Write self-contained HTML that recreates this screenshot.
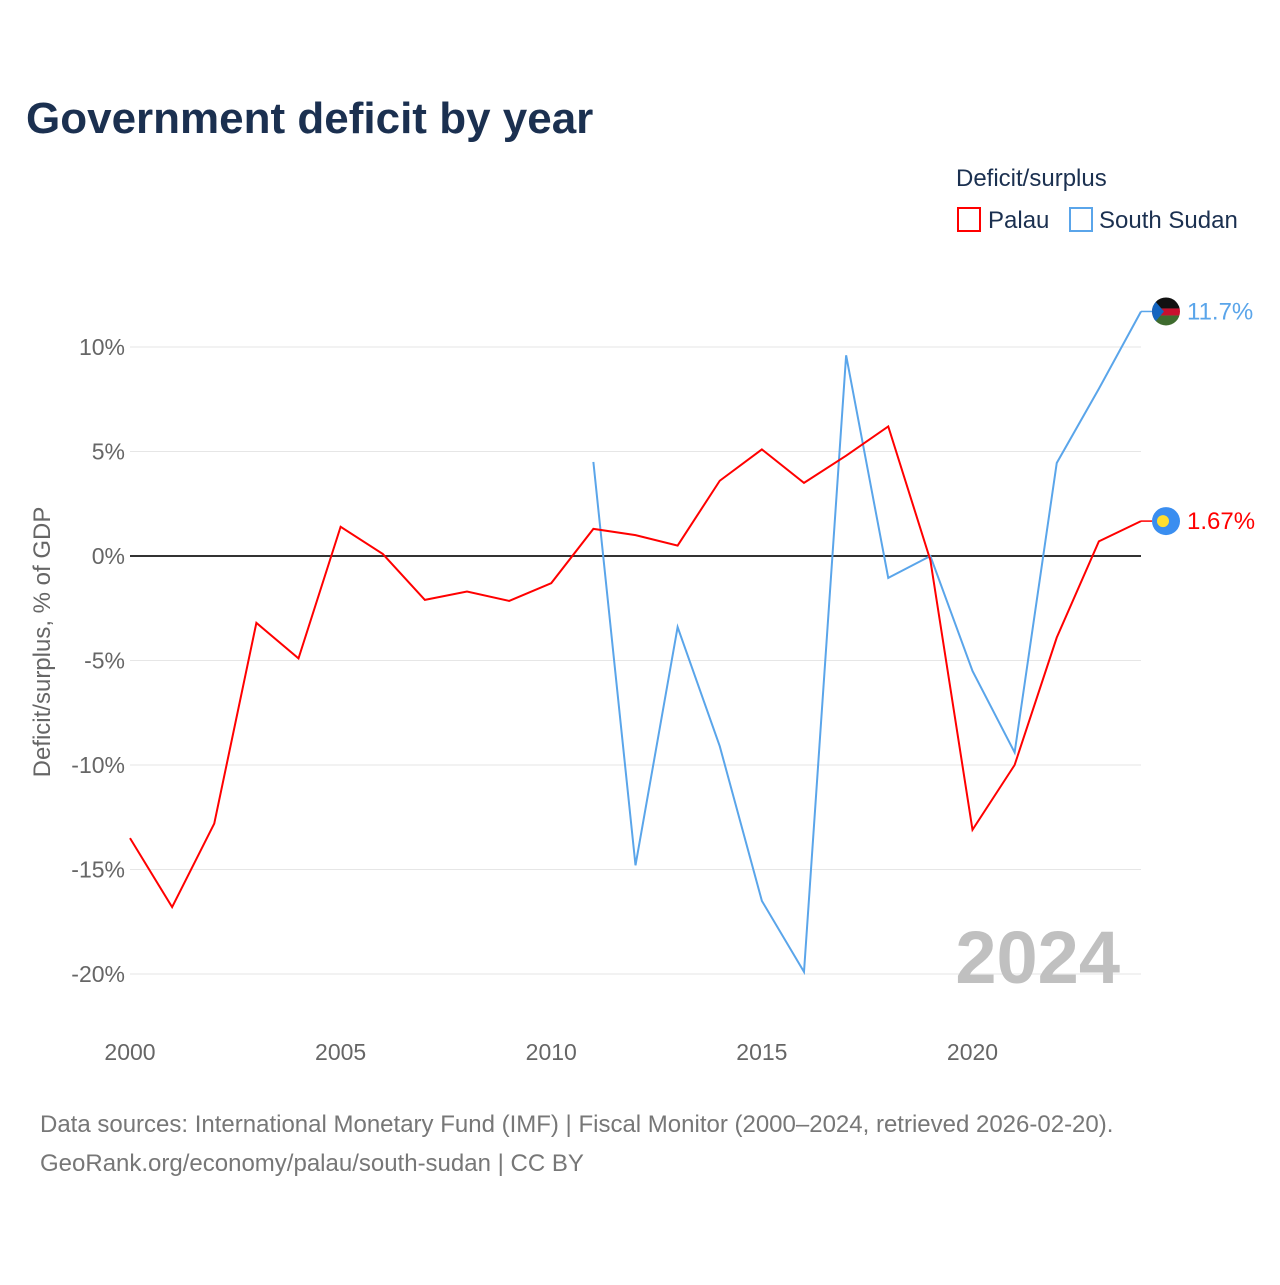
<!DOCTYPE html>
<html><head><meta charset="utf-8"><style>
body{margin:0;background:#fff;font-family:"Liberation Sans",sans-serif;}
svg text{font-family:"Liberation Sans",sans-serif;}
</style></head><body>
<svg width="1280" height="1280" viewBox="0 0 1280 1280" xmlns="http://www.w3.org/2000/svg">
<defs><clipPath id="fc"><circle cx="1166" cy="312" r="14"/></clipPath></defs>
<text x="26" y="133" font-size="44" font-weight="bold" fill="#1b3050">Government deficit by year</text>
<g>
<text x="956" y="186" font-size="24" fill="#1b3050">Deficit/surplus</text>
<g><rect x="958" y="208" width="22" height="23" fill="none" stroke="#ff0000" stroke-width="2"/><text x="988" y="228" font-size="24" fill="#1b3050">Palau</text></g>
<g><rect x="1070" y="208" width="22" height="23" fill="none" stroke="#5aa5ea" stroke-width="2"/><text x="1099" y="228" font-size="24" fill="#1b3050">South Sudan</text></g>
</g>
<g id="grid"></g>
<g id="yt"></g>
<g id="xt"></g>
<text x="1120" y="983" font-size="74" font-weight="bold" fill="#c0c0c0" text-anchor="end">2024</text>
<text transform="translate(50,642) rotate(-90)" font-size="24" fill="#666" text-anchor="middle">Deficit/surplus, % of GDP</text>
<g id="series"></g>
<text x="40" y="1132" font-size="24" fill="#777">Data sources: International Monetary Fund (IMF) | Fiscal Monitor (2000–2024, retrieved 2026-02-20).</text>
<text x="40" y="1171" font-size="24" fill="#777">GeoRank.org/economy/palau/south-sudan | CC BY</text>
</svg>
<script>
const years=[2000,2001,2002,2003,2004,2005,2006,2007,2008,2009,2010,2011,2012,2013,2014,2015,2016,2017,2018,2019,2020,2021,2022,2023,2024];
const palau=[-13.5,-16.8,-12.8,-3.2,-4.9,1.4,0.1,-2.1,-1.7,-2.15,-1.3,1.3,1.0,0.5,3.6,5.1,3.5,4.8,6.2,-0.2,-13.1,-10,-3.9,0.7,1.67];
const southSudan=[null,null,null,null,null,null,null,null,null,null,null,4.5,-14.8,-3.4,-9.1,-16.5,-19.9,9.6,-1.05,0,-5.5,-9.4,4.45,8.0,11.7];
const yTicks=[10,5,0,-5,-10,-15,-20];
const xTicks=[2000,2005,2010,2015,2020];
const NS="http://www.w3.org/2000/svg";
const X=y=>130+(y-2000)*(1141-130)/24;
const Y=v=>556-v*20.9;
function mk(t,a,p){const e=document.createElementNS(NS,t);for(const k in a)e.setAttribute(k,a[k]);p.appendChild(e);return e;}
const grid=document.getElementById('grid'),yt=document.getElementById('yt'),xt=document.getElementById('xt'),ser=document.getElementById('series');
yTicks.forEach(v=>{
 const l=mk('line',{x1:130,x2:1141,y1:Y(v),y2:Y(v),stroke:v===0?'#333':'#e6e6e6','stroke-width':v===0?2:1},grid);
 
 
 const t=mk('text',{x:125,y:Y(v)+8,'font-size':23,fill:'#666','text-anchor':'end'},yt);
 t.textContent=v+'%';
 
 
});
xTicks.forEach(v=>{
 const t=mk('text',{x:X(v),y:1060,'font-size':23,fill:'#666','text-anchor':'middle'},xt);
 t.textContent=v;
 
 
});
function line(vals,color,name,label,flag){
 let d='';vals.forEach((v,i)=>{if(v==null)return;d+=(d?'L':'M')+X(years[i])+','+Y(v);});
 const p=mk('path',{d:d,fill:'none',stroke:color,'stroke-width':2},ser);
 
 
 const lv=vals[vals.length-1],ly=Y(lv);
 mk('line',{x1:1141,x2:1152,y1:ly,y2:ly,stroke:color,'stroke-width':1.5},ser);
 const g=mk('g',{},ser);
 
 
 if(flag==='palau'){mk('circle',{cx:1166,cy:ly,r:14,fill:'#3a8ef0'},g);mk('circle',{cx:1163,cy:ly,r:6,fill:'#ffde2e'},g);}
 else{
  document.querySelector('#fc circle').setAttribute('cy',ly);
  const f=mk('g',{'clip-path':'url(#fc)'},g);
  mk('rect',{x:1152,y:ly-14,width:28,height:11,fill:'#111'},f);
  mk('rect',{x:1152,y:ly-3,width:28,height:7,fill:'#c8102e'},f);
  mk('rect',{x:1152,y:ly+4,width:28,height:10,fill:'#3e6b2e'},f);
  mk('polygon',{points:`1152,${ly-14} 1164,${ly} 1152,${ly+14}`,fill:'#1565c0'},f);
 }
 const t=mk('text',{x:1187,y:ly+8,'font-size':24,fill:color},ser);
 t.textContent=label;
 
 
}
line(southSudan,'#5aa5ea','south-sudan','11.7%','ss');
line(palau,'#ff0000','palau','1.67%','palau');
</script>
</body></html>
